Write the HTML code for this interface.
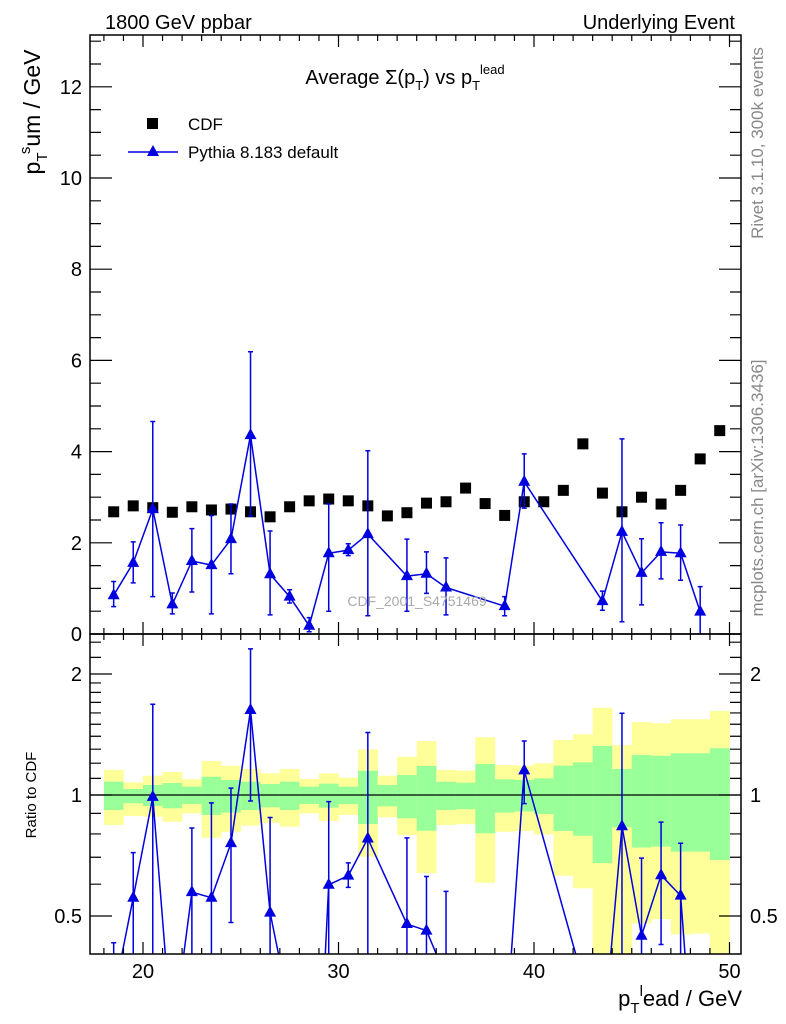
<!DOCTYPE html>
<html><head><meta charset="utf-8">
<style>
html,body{margin:0;padding:0;background:#fff;width:786px;height:1024px;overflow:hidden;}
svg{display:block;font-family:"Liberation Sans",Arial,sans-serif;}
</style></head>
<body>
<svg id="chart" width="786" height="1024" viewBox="0 0 786 1024" xmlns="http://www.w3.org/2000/svg">
<defs>
<clipPath id="clipMain"><rect x="90" y="35" width="651" height="599"/></clipPath>
<clipPath id="clipRatio"><rect x="90" y="634" width="651" height="320"/></clipPath>
</defs>
<rect x="0" y="0" width="786" height="1024" fill="#fff"/>
<g id="bands" clip-path="url(#clipRatio)"></g>
<g id="marksMain" clip-path="url(#clipMain)"></g>
<g id="marksRatio" clip-path="url(#clipRatio)"></g>
<g id="axes"></g>
<text x="105" y="29" font-size="20">1800 GeV ppbar</text>
<text x="735" y="29" font-size="20" text-anchor="end">Underlying Event</text>
<text x="405" y="84" font-size="20" text-anchor="middle">Average Σ(p<tspan font-size="13" dy="6">T</tspan><tspan dy="-6">) vs p</tspan><tspan font-size="13" dy="6">T</tspan><tspan font-size="13" dy="-16">lead</tspan></text>
<g>
<rect x="147" y="118" width="11" height="11" fill="#000"/>
<text x="188" y="130" font-size="17">CDF</text>
<line x1="128" y1="152" x2="178" y2="152" stroke="#0000e0" stroke-width="1.5"/>
<polygon points="153,145 159,156 147,156" fill="#0000e0"/>
<text x="188" y="158" font-size="17">Pythia 8.183 default</text>
</g>
<text x="417" y="606" font-size="14" fill="#aaa" text-anchor="middle">CDF_2001_S4751469</text>
<text transform="translate(40,112) rotate(-90)" font-size="23" text-anchor="middle">p<tspan font-size="15" dy="7">T</tspan><tspan font-size="15" dy="-17">s</tspan><tspan dy="10">um / GeV</tspan></text>
<text transform="translate(36,795) rotate(-90)" font-size="15" text-anchor="middle">Ratio to CDF</text>
<text transform="translate(763,143) rotate(-90)" font-size="17" fill="#888" text-anchor="middle">Rivet 3.1.10,  300k events</text>
<text transform="translate(763,488) rotate(-90)" font-size="17" fill="#888" text-anchor="middle">mcplots.cern.ch [arXiv:1306.3436]</text>
<text x="742" y="1006" font-size="22" text-anchor="end">p<tspan font-size="15" dy="7">T</tspan><tspan font-size="15" dy="-17">l</tspan><tspan dy="10">ead / GeV</tspan></text>
</svg>
<script>
const binCenters = [18.5,19.5,20.5,21.5,22.5,23.5,24.5,25.5,26.5,27.5,28.5,29.5,30.5,31.5,32.5,33.5,34.5,35.5,36.5,37.5,38.5,39.5,40.5,41.5,42.5,43.5,44.5,45.5,46.5,47.5,48.5,49.5];
const cdfValues = [2.68,2.81,2.77,2.67,2.79,2.72,2.74,2.68,2.57,2.79,2.92,2.96,2.92,2.81,2.59,2.66,2.87,2.90,3.20,2.86,2.60,2.90,2.90,3.15,4.17,3.09,2.68,3.00,2.85,3.15,3.84,4.46];
const pythiaValues = [0.85,1.56,2.74,0.65,1.60,1.51,2.08,4.36,1.31,0.82,0.18,1.77,1.84,2.19,null,1.27,1.32,1.02,null,null,0.61,3.34,null,null,null,0.72,2.24,1.34,1.80,1.77,0.49,null];
const pythiaErrUp = [1.15,2.02,4.66,0.90,2.31,2.60,2.85,6.19,2.26,0.97,0.36,2.85,1.98,4.02,null,2.08,1.80,1.67,null,null,0.82,3.95,null,null,null,0.94,4.28,2.09,2.44,2.39,1.04,null];
const pythiaErrDn = [0.60,1.12,0.82,0.44,0.92,0.44,1.32,2.59,0.42,0.68,0.05,0.50,1.72,0.40,null,0.50,0.89,0.42,null,null,0.40,2.76,null,null,null,0.52,0.27,0.64,1.21,1.18,0.00,null];
const bandYellowHi = [1.154,1.075,1.117,1.141,1.094,1.215,1.183,1.161,1.132,1.161,1.096,1.132,1.104,1.299,1.117,1.245,1.362,1.154,1.150,1.392,1.187,1.183,1.199,1.370,1.416,1.649,1.331,1.518,1.508,1.543,1.543,1.618];
const bandYellowLo = [0.842,0.887,0.883,0.858,0.900,0.783,0.810,0.839,0.853,0.834,0.900,0.862,0.892,0.702,0.880,0.795,0.639,0.842,0.846,0.605,0.810,0.814,0.798,0.630,0.586,0.40,0.40,0.479,0.491,0.450,0.452,0.40];
const bandGreenHi = [1.079,1.035,1.059,1.071,1.049,1.110,1.090,1.079,1.065,1.079,1.049,1.067,1.049,1.149,1.059,1.121,1.181,1.079,1.073,1.194,1.094,1.090,1.100,1.183,1.206,1.324,1.161,1.257,1.252,1.270,1.270,1.307];
const bandGreenLo = [0.918,0.954,0.939,0.927,0.950,0.892,0.904,0.918,0.932,0.918,0.950,0.930,0.949,0.847,0.937,0.875,0.815,0.918,0.922,0.803,0.904,0.910,0.897,0.814,0.792,0.677,0.831,0.740,0.744,0.723,0.723,0.689];
const mainYTicks = [0,2,4,6,8,10,12];
const ratioYTicks = [0.5,1,2];
const xTicks = [20,30,40,50];

const NS='http://www.w3.org/2000/svg';
const X0=90,X1=741,YT=35,YM=634,YB=954;
function xs(v){return 143+(v-20)*19.55;}
function ys(v){return 634-v*45.6;}
function yr(r){return 795-121*Math.log2(r);}
function mk(parent,tag,attrs){const e=document.createElementNS(NS,tag);for(const k in attrs)e.setAttribute(k,attrs[k]);parent.appendChild(e);return e;}
const BLUE='#0000e0';
const bands=document.getElementById('bands');
const mm=document.getElementById('marksMain');
const mr=document.getElementById('marksRatio');
const ax=document.getElementById('axes');
function cl(v,a,b){return Math.max(a,Math.min(b,v));}

binCenters.forEach((c,i)=>{
  const xa=xs(c-0.5), xb=xs(c+0.5);
  const y1=cl(yr(bandYellowHi[i]),YM,YB), y2=cl(yr(bandYellowLo[i]),YM,YB);
  let e=mk(bands,'rect',{x:xa,y:y1,width:xb-xa+0.3,height:y2-y1,fill:'#ffff99'});
  
  
  const g1=cl(yr(bandGreenHi[i]),YM,YB), g2=cl(yr(bandGreenLo[i]),YM,YB);
  e=mk(bands,'rect',{x:xa,y:g1,width:xb-xa+0.3,height:g2-g1,fill:'#99ff99'});
  
  
});
let ln=mk(mr,'line',{x1:X0,y1:yr(1),x2:X1,y2:yr(1),stroke:'#000','stroke-width':1.2});



binCenters.forEach((c,i)=>{
  const s=mk(mm,'rect',{x:xs(c)-5.5,y:ys(cdfValues[i])-5.5,width:11,height:11,fill:'#000'});
  
  
});

function clipSeg(x1,y1,x2,y2,top,bot){
  // clip segment to y range [top,bot]
  if((y1<top&&y2<top)||(y1>bot&&y2>bot))return null;
  function at(y){const t=(y-y1)/(y2-y1);return [x1+t*(x2-x1),y];}
  let a=[x1,y1],b=[x2,y2];
  if(y1<top)a=at(top); else if(y1>bot)a=at(bot);
  if(y2<top)b=at(top); else if(y2>bot)b=at(bot);
  return [a,b];
}
function drawSeries(g,fy,ratio,top,bot){
  const pts=[];
  binCenters.forEach((c,i)=>{
    if(pythiaValues[i]===null)return;
    const d=ratio?cdfValues[i]:1;
    pts.push([xs(c),fy(pythiaValues[i]/d),fy(pythiaErrUp[i]/d),fy(Math.max(pythiaErrDn[i],0.001)/d)]);
  });
  let pd='';
  for(let k=0;k<pts.length-1;k++){
    const s=clipSeg(pts[k][0],pts[k][1],pts[k+1][0],pts[k+1][1],top,bot);
    if(s)pd+=`M${s[0][0].toFixed(1)},${s[0][1].toFixed(1)}L${s[1][0].toFixed(1)},${s[1][1].toFixed(1)}`;
  }
  const pl=mk(g,'path',{d:pd,fill:'none',stroke:BLUE,'stroke-width':1.5});
  
  
  pts.forEach(p=>{
    const yu=p[2], yd=p[3];
    if(yd<top||yu>bot)return;
    const a=cl(yu,top,bot), b=cl(yd,top,bot);
    let ed=`M${p[0]},${a}V${b}`;
    if(yu>=top)ed+=`M${p[0]-2.5},${yu}H${p[0]+2.5}`;
    if(yd<=bot)ed+=`M${p[0]-2.5},${yd}H${p[0]+2.5}`;
    const eb=mk(g,'path',{d:ed,stroke:BLUE,'stroke-width':1.5,fill:'none'});
    
    
    if(p[1]>=top-4&&p[1]<=bot+7){
      const t=mk(g,'polygon',{points:`${p[0]},${p[1]-7} ${p[0]+6},${p[1]+4} ${p[0]-6},${p[1]+4}`,fill:BLUE});
      
      
    }
  });
}
drawSeries(mm,ys,false,YT,YM);
drawSeries(mr,yr,true,YM,YB);

let f=mk(ax,'rect',{x:X0,y:YT,width:X1-X0,height:YM-YT,fill:'none',stroke:'#000','stroke-width':1.5});


f=mk(ax,'rect',{x:X0,y:YM,width:X1-X0,height:YB-YM,fill:'none',stroke:'#000','stroke-width':1.5});



let d='';
for(let v=18;v<=50;v++){
  const x=xs(v), L=(v%10===0)?12:6;
  d+=`M${x},${YT}v${L}M${x},${YM}v${-L}M${x},${YM}v${L}M${x},${YB}v${-L}`;
}
for(let v=0;v<=13;v+=0.5){
  const y=ys(v), L=(v%2===0)?22:11;
  d+=`M${X0},${y}h${L}M${X1},${y}h${-L}`;
}
const rt=[0.5,0.6,0.7,0.8,0.9,1,1.1,1.2,1.3,1.4,1.5,1.6,1.7,1.8,1.9,2,2.2,2.4];
rt.forEach(r=>{
  const y=yr(r), L=(r===0.5||r===1||r===2)?22:11;
  d+=`M${X0},${y}h${L}M${X1},${y}h${-L}`;
});
const tp=mk(ax,'path',{d:d,stroke:'#000','stroke-width':1.2,fill:'none'});



mainYTicks.forEach(v=>{
  const t=mk(ax,'text',{x:82,y:ys(v)+7,'font-size':20,'text-anchor':'end'});
  t.textContent=v;
  
  
});
ratioYTicks.forEach(v=>{
  let t=mk(ax,'text',{x:82,y:yr(v)+7,'font-size':20,'text-anchor':'end'});
  t.textContent=v;
  
  
  t=mk(ax,'text',{x:750,y:yr(v)+7,'font-size':20,'text-anchor':'start'});
  t.textContent=v;
  
  
});
xTicks.forEach(v=>{
  const t=mk(ax,'text',{x:xs(v),y:978,'font-size':20,'text-anchor':'middle'});
  t.textContent=v;
  
  
});
</script>
</body></html>
